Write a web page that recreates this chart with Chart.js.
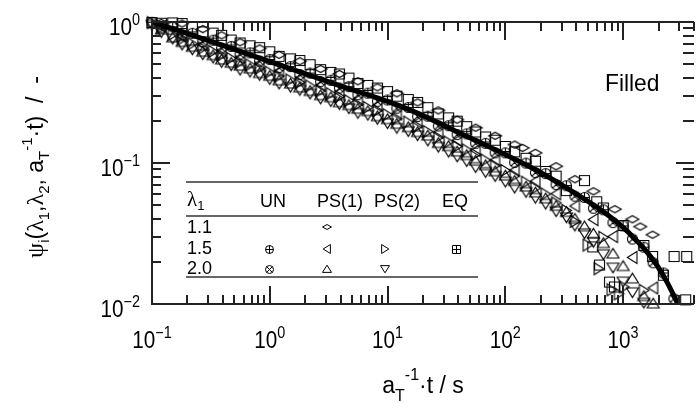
<!DOCTYPE html>
<html>
<head>
<meta charset="utf-8">
<title>Relaxation master curve - Filled</title>
<script src="https://cdn.jsdelivr.net/npm/chart.js"></script>
<style>html,body{margin:0;padding:0;background:#fff} canvas{display:block}</style>
</head>
<body>
<canvas id="chart" width="700" height="403"></canvas>
<script>
// master curve (thick black line)
const curveT = [0.1, 0.32, 1, 3.7, 14.5, 46, 180, 320, 700, 1170, 1830, 2360, 2920];
const curveV = [1.0, 0.727, 0.524, 0.36, 0.243, 0.156, 0.0895, 0.0678, 0.0443, 0.0309, 0.0202, 0.0143, 0.01];

// measured points [t, psi] per lambda1 / deformation mode
const ps1_11 = [[0.12,0.985],[0.18,0.975],[0.27,0.891],[0.39,0.804],[0.56,0.718],[0.82,0.650],[1.2,0.585],[1.8,0.527],[2.7,0.465],[3.9,0.428],[5.6,0.380],[8.2,0.344],[12,0.312],[18,0.269],[27,0.236],[39,0.203],[56,0.178],[82,0.156],[120,0.135],[140,0.128],[180,0.118],[270,0.0948],[390,0.0767],[560,0.0630],[850,0.047],[1200,0.0399],[1400,0.0354],[1780,0.031]];
const un_15 = [[0.1,0.995],[0.15,0.925],[0.22,0.832],[0.33,0.743],[0.47,0.671],[0.68,0.604],[1,0.542],[1.5,0.483],[2.2,0.434],[3.3,0.386],[4.7,0.348],[6.8,0.313],[10,0.280],[15,0.248],[22,0.215],[33,0.184],[47,0.161],[68,0.138],[100,0.118],[150,0.0998],[220,0.0841],[330,0.0690],[470,0.0570],[680,0.0466],[1000,0.0358],[1500,0.0253],[2200,0.0166]];
const ps1_15 = [[0.12,0.929],[0.18,0.793],[0.27,0.692],[0.39,0.624],[0.56,0.557],[0.82,0.505],[1.2,0.449],[1.8,0.395],[2.7,0.356],[3.9,0.317],[5.6,0.282],[8.2,0.255],[12,0.223],[18,0.195],[27,0.165],[39,0.145],[56,0.123],[82,0.105],[120,0.0889],[180,0.0745],[270,0.0605],[390,0.0495],[560,0.0397],[820,0.0301],[1200,0.0214],[1800,0.0130]];
const ps2_15 = [[0.1,0.989],[0.12,0.91],[0.15,0.815],[0.18,0.757],[0.22,0.700],[0.27,0.653],[0.33,0.618],[0.39,0.582],[0.47,0.552],[0.56,0.520],[0.68,0.497],[0.82,0.471],[1,0.441],[1.2,0.414],[1.5,0.388],[1.8,0.373],[2.2,0.352],[2.7,0.325],[3.3,0.310],[3.9,0.296],[4.7,0.277],[5.6,0.260],[6.8,0.248],[8.2,0.236],[10,0.220],[12,0.206],[15,0.195],[18,0.182],[22,0.167],[27,0.152],[33,0.141],[39,0.131],[47,0.124],[56,0.115],[68,0.105],[82,0.0959],[100,0.0885],[120,0.0811],[150,0.0731],[180,0.0664],[220,0.0603],[270,0.0521],[330,0.0461],[390,0.0385],[500,0.0262],[620,0.0178],[680,0.0297],[800,0.0126],[920,0.0118],[1020,0.0132],[1500,0.0125]];
const eq_15 = [[0.1,0.99],[0.12,0.98],[0.15,0.985],[0.18,0.975],[0.22,0.923],[0.27,0.851],[0.33,0.834],[0.39,0.804],[0.47,0.745],[0.56,0.710],[0.68,0.678],[0.82,0.658],[1,0.615],[1.2,0.571],[1.5,0.548],[1.8,0.533],[2.2,0.498],[2.7,0.459],[3.3,0.439],[3.9,0.428],[4.7,0.400],[5.6,0.367],[6.8,0.355],[8.2,0.340],[10,0.321],[12,0.298],[15,0.282],[18,0.269],[22,0.247],[27,0.223],[33,0.209],[39,0.198],[47,0.181],[56,0.166],[68,0.153],[82,0.145],[100,0.131],[120,0.120],[150,0.108],[180,0.103],[220,0.0871],[270,0.0807],[330,0.0637],[470,0.075],[553,0.0254],[597,0.0531],[631,0.0189],[680,0.048],[767,0.0143],[845,0.0132],[1000,0.036],[1500,0.026],[1780,0.0217],[2200,0.016],[2710,0.0217],[3400,0.0107],[3470,0.0217]];
const un_20 = [[0.12,0.908],[0.18,0.811],[0.27,0.724],[0.39,0.653],[0.56,0.590],[0.82,0.528],[1.2,0.475],[1.8,0.424],[2.7,0.378],[3.9,0.340],[5.6,0.305],[8.2,0.274],[12,0.245],[18,0.214],[27,0.183],[39,0.159],[56,0.138],[82,0.118],[120,0.101],[180,0.0855],[270,0.0703],[390,0.0582],[560,0.0478],[820,0.0378],[1200,0.0289],[1800,0.0196],[2700,0.0109]];
const ps1_20 = [[0.12,0.887],[0.15,0.778],[0.18,0.723],[0.22,0.668],[0.27,0.617],[0.33,0.583],[0.39,0.543],[0.47,0.515],[0.56,0.491],[0.68,0.469],[0.82,0.435],[1,0.416],[1.2,0.386],[1.5,0.366],[1.8,0.344],[2.2,0.325],[2.7,0.303],[3.3,0.293],[3.9,0.270],[4.7,0.258],[5.6,0.243],[6.8,0.234],[8.2,0.215],[10,0.205],[12,0.190],[15,0.180],[18,0.166],[22,0.157],[27,0.139],[33,0.132],[39,0.121],[47,0.114],[56,0.104],[68,0.0966],[82,0.0875],[100,0.0817],[120,0.0748],[150,0.0682],[180,0.0619],[220,0.0562],[270,0.0498],[330,0.0451],[390,0.0403],[470,0.0356],[560,0.0316],[680,0.0271],[820,0.0228],[1000,0.0186],[1200,0.0152],[1500,0.0114],[1800,0.0101]];
const ps2_20 = [[0.1,0.955],[0.12,0.847],[0.15,0.760],[0.18,0.690],[0.22,0.638],[0.27,0.589],[0.33,0.557],[0.39,0.519],[0.47,0.492],[0.56,0.458],[0.68,0.443],[0.82,0.420],[1,0.393],[1.2,0.365],[1.5,0.346],[1.8,0.329],[2.2,0.310],[2.7,0.286],[3.3,0.274],[3.9,0.261],[4.7,0.244],[5.6,0.226],[6.8,0.219],[8.2,0.205],[10,0.191],[12,0.177],[15,0.168],[18,0.157],[22,0.144],[27,0.130],[33,0.120],[39,0.111],[47,0.103],[56,0.0933],[68,0.0861],[82,0.0807],[100,0.0736],[120,0.0667],[150,0.0622],[180,0.0565],[220,0.0513],[270,0.0454],[330,0.0411],[390,0.0359],[470,0.0317],[560,0.0275],[680,0.0225],[820,0.0181],[1000,0.0144],[1200,0.0121],[1500,0.0102]];

// axes
const xDecades = [0.1, 1, 10, 100, 1000];
const xExp = ['\u22121', '0', '1', '2', '3'];
const yDecades = [0.01, 0.1, 1];
const yExp = ['\u22122', '\u22121', '0'];
const minorMult = [2, 3, 4, 5, 6, 7, 8, 9];

// legend table
const legendCols = ['UN', 'PS(1)', 'PS(2)', 'EQ'];
const legendRows = ['1.1', '1.5', '2.0'];

const INK = '#000';
const SANS = '"Liberation Sans", Arial, sans-serif';
const SERIF = '"Liberation Serif", "DejaVu Serif", serif';

function mk(kind, size, lw) {
  const d = Math.ceil(size) + 3;
  const c = document.createElement('canvas');
  c.width = c.height = d;
  const g = c.getContext('2d');
  g.strokeStyle = INK; g.lineWidth = lw || 1;
  const m = d / 2, r = size / 2;
  g.beginPath();
  if (kind === 'sq' || kind === 'sqp') {
    g.rect(m - r, m - r, size, size);
    if (kind === 'sqp') { g.moveTo(m, m - r); g.lineTo(m, m + r); g.moveTo(m - r, m); g.lineTo(m + r, m); }
  } else if (kind === 'cp' || kind === 'cx') {
    g.arc(m, m, r, 0, Math.PI * 2);
    if (kind === 'cp') { g.moveTo(m, m - r); g.lineTo(m, m + r); g.moveTo(m - r, m); g.lineTo(m + r, m); }
    else { const k = r * 0.707; g.moveTo(m - k, m - k); g.lineTo(m + k, m + k); g.moveTo(m + k, m - k); g.lineTo(m - k, m + k); }
  } else if (kind === 'dia') {
    g.moveTo(m - r, m); g.lineTo(m, m - r * 0.55); g.lineTo(m + r, m); g.lineTo(m, m + r * 0.55); g.closePath();
  } else if (kind === 'up') {
    g.moveTo(m, m - r * 0.85); g.lineTo(m + r, m + r * 0.75); g.lineTo(m - r, m + r * 0.75); g.closePath();
  } else if (kind === 'down') {
    g.moveTo(m, m + r * 0.85); g.lineTo(m + r, m - r * 0.75); g.lineTo(m - r, m - r * 0.75); g.closePath();
  } else if (kind === 'left') {
    g.moveTo(m - r * 0.85, m); g.lineTo(m + r * 0.75, m - r); g.lineTo(m + r * 0.75, m + r); g.closePath();
  } else if (kind === 'right') {
    g.moveTo(m + r * 0.85, m); g.lineTo(m - r * 0.75, m - r); g.lineTo(m - r * 0.75, m + r); g.closePath();
  }
  g.stroke();
  return c;
}

function pts(arr) { return arr.map(p => ({ x: p[0], y: p[1] })); }
function scat(arr, img) {
  return { data: pts(arr), pointStyle: img, pointRadius: 5, showLine: false, clip: false, order: 1 };
}

// draws a run of text pieces: [text, size, dy, family]
function rich(ctx, segs, x, y, align, sx) {
  const ws = segs.map(s => { ctx.font = s[1] + 'px ' + (s[3] || SANS); return ctx.measureText(s[0]).width; });
  const total = ws.reduce((a, b) => a + b, 0);
  ctx.save();
  ctx.translate(x, y); ctx.scale(sx || 1, 1);
  let cx = align === 'center' ? -total / 2 : align === 'right' ? -total : 0;
  ctx.fillStyle = '#000'; ctx.textAlign = 'left'; ctx.textBaseline = 'alphabetic';
  segs.forEach((s, i) => { ctx.font = s[1] + 'px ' + (s[3] || SANS); ctx.fillText(s[0], cx, s[2] || 0); cx += ws[i]; });
  ctx.restore();
}

function line(ctx, x1, y1, x2, y2) { ctx.beginPath(); ctx.moveTo(x1, y1); ctx.lineTo(x2, y2); ctx.stroke(); }

const decor = {
  id: 'decor',
  afterDraw(chart) {
    const ctx = chart.ctx, a = chart.chartArea, xs = chart.scales.x, ys = chart.scales.y;
    ctx.save();
    ctx.strokeStyle = '#222'; ctx.lineWidth = 2;
    line(ctx, a.left, a.top, a.left, a.bottom);
    line(ctx, a.left - 1, a.top, a.right, a.top);
    line(ctx, a.left - 1, a.bottom, a.right, a.bottom);

    // x ticks top and bottom
    xDecades.forEach(d => {
      [1].concat(minorMult).forEach(m => {
        const v = d * m;
        if (v > xs.max) return;
        const px = Math.round(xs.getPixelForValue(v));
        const len = m === 1 ? 18 : 9;
        if (px > a.left + 1) {
          line(ctx, px, a.bottom, px, a.bottom - len);
          line(ctx, px, a.top, px, a.top + len);
        }
      });
    });
    // y ticks left and right
    yDecades.forEach(d => {
      [1].concat(minorMult).forEach(m => {
        const v = d * m;
        if (v > ys.max) return;
        const py = Math.round(ys.getPixelForValue(v));
        const big = m === 1;
        if (py < a.bottom - 1 && py > a.top + 1) {
          line(ctx, a.left, py, a.left + (big ? 18 : 9), py);
          line(ctx, a.right, py, a.right - (big ? 18 : 11), py);
        }
      });
    });

    // tick labels
    xDecades.forEach((d, i) => {
      rich(ctx, [['10', 23, 0], [xExp[i], 16, -10]], xs.getPixelForValue(d), 348, 'center', 0.9);
    });
    yDecades.forEach((d, i) => {
      rich(ctx, [['10', 23, 0], [yExp[i], 16, -10]], 140, ys.getPixelForValue(d) + 13, 'right', 0.9);
    });

    // axis titles
    rich(ctx, [['a', 23, 0], ['T', 16, 8], ['-1', 16, -13], ['\u00b7t / s', 23, 0]], (a.left + a.right) / 2, 393, 'center');
    ctx.save();
    ctx.translate(43, 167); ctx.rotate(-Math.PI / 2);
    rich(ctx, [['\u03c8', 24, 0, SERIF], ['i', 15, 6], ['(', 23, 0], ['\u03bb', 24, 0, SERIF], ['1', 15, 6], [',', 23, 0], ['\u03bb', 24, 0, SERIF], ['2', 15, 6],
      [', a', 23, 0], ['T', 15, 6], ['-1', 15, -11], ['\u00b7t)  /  -', 23, 0]], 0, 0, 'center');
    ctx.restore();

    // "Filled"
    rich(ctx, [['Filled', 24, 0]], 605, 91, 'left', 0.95);

    // legend table
    ctx.strokeStyle = '#333'; ctx.lineWidth = 1.5;
    line(ctx, 186, 182, 478, 182);
    line(ctx, 186, 216, 478, 216);
    line(ctx, 186, 277, 478, 277);
    rich(ctx, [['\u03bb', 21, 0, SERIF], ['1', 13, 4]], 187, 206, 'left');
    const colX = [273, 340, 397, 455];
    legendCols.forEach((t, i) => rich(ctx, [[t, 18, 0]], colX[i], 207, 'center'));
    const rowY = [233, 254, 274];
    legendRows.forEach((t, i) => rich(ctx, [[t, 18, 0]], 187, rowY[i], 'left'));
    const lg = [['dia', 327, 227, 9], ['cp', 269, 249, 8], ['left', 327, 249, 9], ['right', 385, 249, 9], ['sqp', 456, 249, 8],
      ['cx', 269, 269, 8], ['up', 327, 269, 9], ['down', 385, 269, 9]];
    lg.forEach(s => { const im = mk(s[0], s[3]); ctx.drawImage(im, Math.round(s[1] - im.width / 2), Math.round(s[2] - im.height / 2)); });
    ctx.restore();
  }
};

new Chart(document.getElementById('chart'), {
  type: 'scatter',
  data: {
    datasets: [
      { data: curveT.map((t, i) => ({ x: t, y: curveV[i] })), showLine: true, borderColor: '#000', borderWidth: 5,
        pointRadius: 0, cubicInterpolationMode: 'monotone', fill: false, order: 0 },
      scat(eq_15, mk('sq', 10, 1.1)),
      scat(ps1_11, mk('dia', 13, 1.1)),
      scat(ps2_20, mk('down', 12, 1.1)),
      scat(ps1_20, mk('up', 12, 1.1)),
      scat(ps2_15, mk('right', 12, 1.1)),
      scat(ps1_15, mk('left', 12, 1.1)),
      scat(un_15, mk('cp', 10, 1.1)),
      scat(un_20, mk('cx', 10, 1.1))
    ]
  },
  options: {
    responsive: false,
    animation: false,
    devicePixelRatio: 1,
    layout: { padding: { left: 152, top: 22, right: 0, bottom: 99 } },
    plugins: { legend: { display: false }, tooltip: { enabled: false } },
    scales: {
      x: { type: 'logarithmic', min: 0.1, max: 4000, display: false },
      y: { type: 'logarithmic', min: 0.01, max: 1, display: false }
    }
  },
  plugins: [decor]
});
</script>
</body>
</html>
